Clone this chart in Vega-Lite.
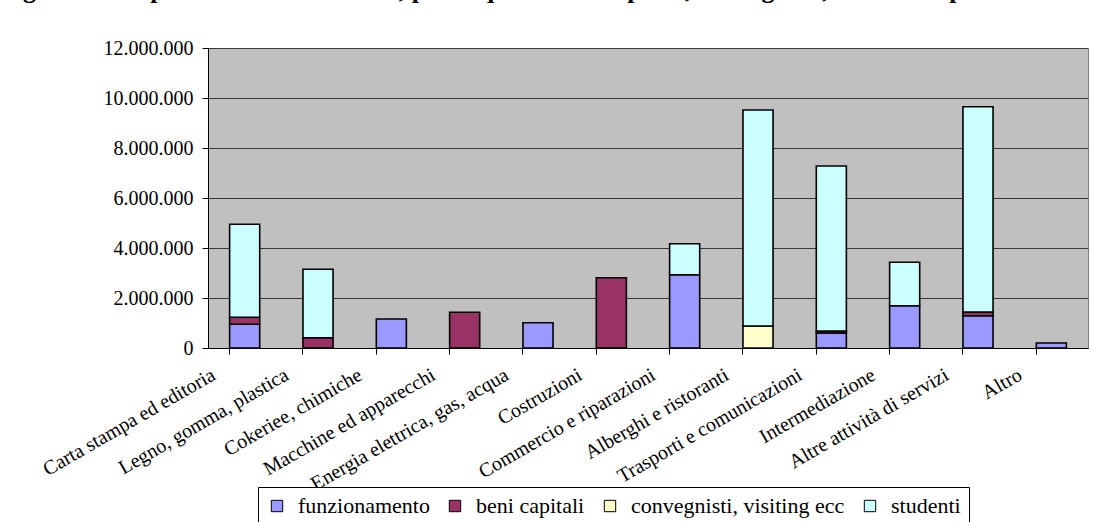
{
  "$schema": "https://vega.github.io/schema/vega-lite/v6.json",
  "autosize": {"type": "none"},
  "width": 880,
  "height": 300,
  "padding": {"left": 208, "top": 48, "right": 6, "bottom": 174},
  "background": "white",
  "title": {
    "text": "Figura 4.3 - Spese di funzionamento, per acquisti beni capitali, convegnisti, e studenti per settore",
    "anchor": "start",
    "frame": "group",
    "dx": -208,
    "offset": 35,
    "font": "Liberation Serif",
    "fontSize": 26,
    "fontWeight": "bold",
    "color": "black"
  },
  "data": {
    "values": [
      {"settore": "Carta stampa ed editoria", "voce": "funzionamento", "valore": 950000},
      {"settore": "Carta stampa ed editoria", "voce": "beni capitali", "valore": 280000},
      {"settore": "Carta stampa ed editoria", "voce": "studenti", "valore": 3720000},
      {"settore": "Legno, gomma, plastica", "voce": "beni capitali", "valore": 410000},
      {"settore": "Legno, gomma, plastica", "voce": "studenti", "valore": 2740000},
      {"settore": "Cokeriee, chimiche", "voce": "funzionamento", "valore": 1160000},
      {"settore": "Macchine ed apparecchi", "voce": "beni capitali", "valore": 1430000},
      {"settore": "Energia elettrica, gas, acqua", "voce": "funzionamento", "valore": 1010000},
      {"settore": "Costruzioni", "voce": "beni capitali", "valore": 2810000},
      {"settore": "Commercio e riparazioni", "voce": "funzionamento", "valore": 2930000},
      {"settore": "Commercio e riparazioni", "voce": "studenti", "valore": 1240000},
      {"settore": "Alberghi e ristoranti", "voce": "convegnisti, visiting ecc", "valore": 880000},
      {"settore": "Alberghi e ristoranti", "voce": "studenti", "valore": 8640000},
      {"settore": "Trasporti e comunicazioni", "voce": "funzionamento", "valore": 600000},
      {"settore": "Trasporti e comunicazioni", "voce": "beni capitali", "valore": 80000},
      {"settore": "Trasporti e comunicazioni", "voce": "studenti", "valore": 6600000},
      {"settore": "Intermediazione", "voce": "funzionamento", "valore": 1690000},
      {"settore": "Intermediazione", "voce": "studenti", "valore": 1740000},
      {"settore": "Altre attività di servizi", "voce": "funzionamento", "valore": 1290000},
      {"settore": "Altre attività di servizi", "voce": "beni capitali", "valore": 150000},
      {"settore": "Altre attività di servizi", "voce": "studenti", "valore": 8210000},
      {"settore": "Altro", "voce": "funzionamento", "valore": 200000}
    ]
  },
  "transform": [
    {"calculate": "indexof(['funzionamento', 'beni capitali', 'convegnisti, visiting ecc', 'studenti'], datum.voce)", "as": "ordine_pila"}
  ],
  "mark": {"type": "bar", "stroke": "black", "strokeWidth": 1.6},
  "encoding": {
    "x": {
      "field": "settore",
      "type": "nominal",
      "sort": null,
      "scale": {"paddingInner": 0.59, "paddingOuter": 0.295},
      "axis": {
        "title": null,
        "labelAngle": -30,
        "labelAlign": "right",
        "labelBaseline": "middle",
        "labelFont": "Liberation Serif",
        "labelFontSize": 20,
        "labelColor": "black",
        "labelPadding": 19,
        "labelOffset": -31,
        "labelLimit": 400,
        "labelOverlap": false,
        "bandPosition": 0,
        "tickSize": 6,
        "tickColor": "black",
        "domainColor": "black",
        "grid": false
      }
    },
    "y": {
      "field": "valore",
      "type": "quantitative",
      "stack": "zero",
      "scale": {"domain": [0, 12000000], "nice": false},
      "axis": {
        "title": null,
        "values": [0, 2000000, 4000000, 6000000, 8000000, 10000000, 12000000],
        "format": ",d",
        "labelFont": "Liberation Serif",
        "labelFontSize": 20,
        "labelColor": "black",
        "labelPadding": 9,
        "tickSize": 6,
        "tickColor": "black",
        "domainColor": "black",
        "grid": true,
        "gridColor": "#383838",
        "gridOpacity": 1
      }
    },
    "order": {"field": "ordine_pila", "type": "quantitative", "sort": "ascending"},
    "color": {
      "field": "voce",
      "type": "nominal",
      "scale": {
        "domain": ["funzionamento", "beni capitali", "convegnisti, visiting ecc", "studenti"],
        "range": ["#9999FF", "#993366", "#FFFFCC", "#CCFFFF"]
      },
      "legend": {
        "title": null,
        "orient": "none",
        "legendX": 50,
        "legendY": 439,
        "direction": "horizontal",
        "symbolType": "square",
        "symbolSize": 130,
        "symbolStrokeColor": "black",
        "symbolStrokeWidth": 1,
        "labelFont": "Liberation Serif",
        "labelFontSize": 22,
        "labelColor": "black",
        "labelOffset": 10,
        "labelLimit": 400,
        "columnPadding": 14,
        "strokeColor": "black",
        "fillColor": "white",
        "padding": 8
      }
    }
  },
  "config": {
    "locale": {
      "number": {"decimal": ",", "thousands": ".", "grouping": [3], "currency": ["€", ""]}
    },
    "view": {"fill": "#C0C0C0", "stroke": "#808080", "strokeWidth": 1}
  }
}
